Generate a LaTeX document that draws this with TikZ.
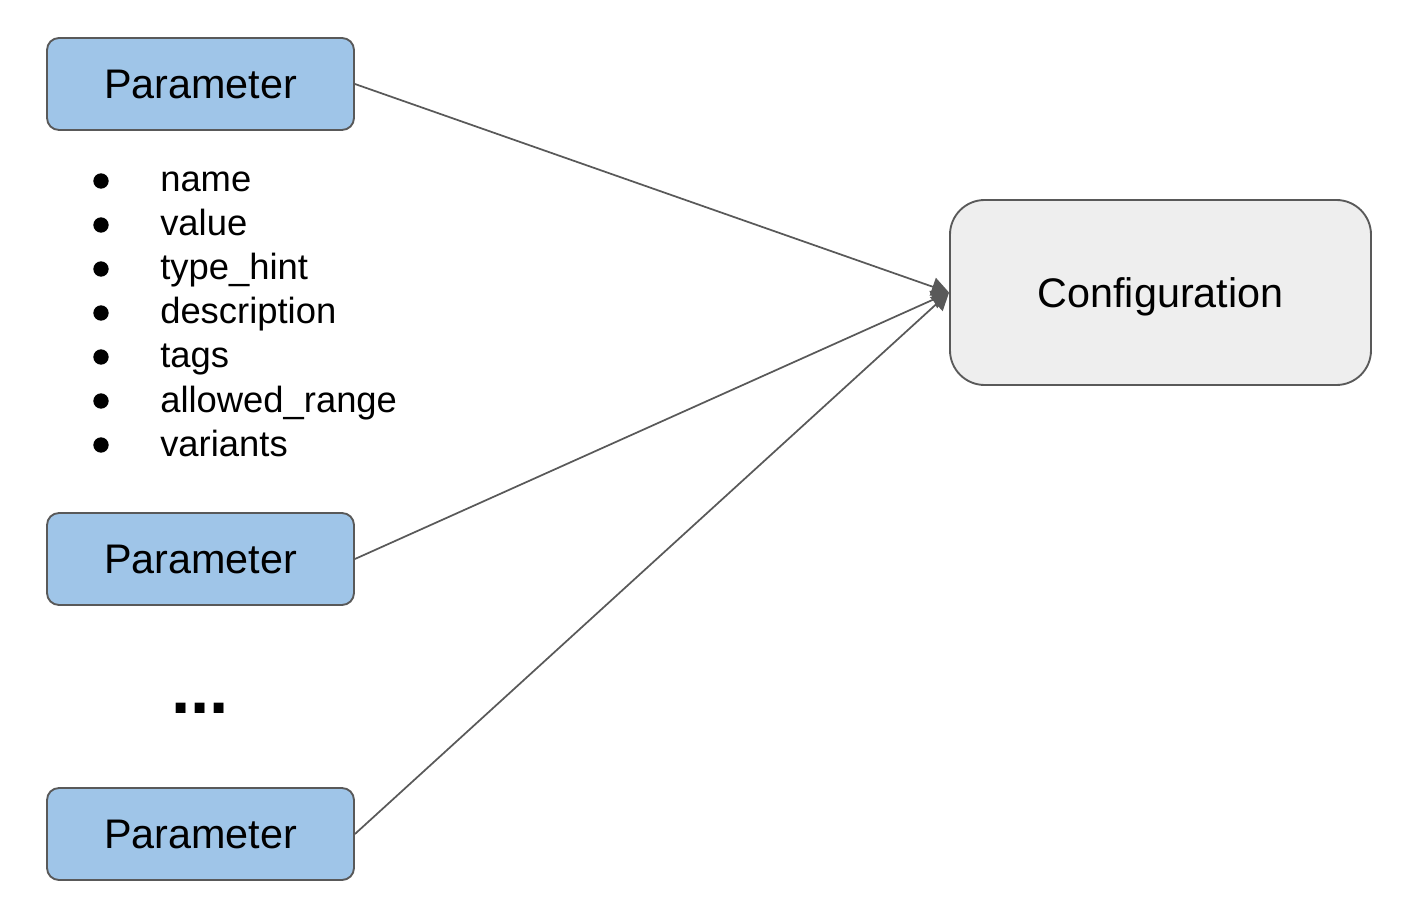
\documentclass[tikz,border=0pt]{standalone}
\usepackage{fontspec}
\setmainfont{Liberation Sans}
\usetikzlibrary{arrows.meta}
\definecolor{parblue}{HTML}{9FC5E8}
\definecolor{confgray}{HTML}{EEEEEE}
\definecolor{edgegray}{HTML}{595959}
\begin{document}
\begin{tikzpicture}[x=0.75pt,y=-0.75pt,
  parbox/.style={draw=edgegray,line width=1.4pt,fill=parblue,rounded corners=9pt,
    minimum width=230.25pt,minimum height=69pt,inner sep=0pt,
    font=\fontsize{31}{37}\selectfont},
  confbox/.style={draw=edgegray,line width=1.4pt,fill=confgray,rounded corners=26pt,
    minimum width=315.75pt,minimum height=138.75pt,inner sep=0pt,text depth=0pt,
    font=\fontsize{31}{37}\selectfont},
  item/.style={anchor=base west,inner sep=0pt,font=\fontsize{27.3}{32}\selectfont},
  dot/.style={circle,fill=black,inner sep=0pt,minimum size=11.5pt},
  link/.style={draw=edgegray,line width=1.3pt,-{Triangle[length=13pt,width=14pt]}}]
\useasboundingbox (0,0) rectangle (1404,902);

% parameter boxes
\node[parbox] (p1) at (200.5,84) {Parameter};
\node[parbox] (p2) at (200.5,559) {Parameter};
\node[parbox] (p3) at (200.5,834) {Parameter};

% configuration box
\node[confbox] (conf) at (1160.5,292.5) {Configuration};

% attribute list
\foreach \t [count=\i from 0] in {name,value,type\_hint,description,tags,allowed\_range,variants}{
  \node[dot] (b\i) at (101,{181+44*\i}) {};
  \node[item] (t\i) at (160,{192+44*\i}) {\t};
}

% ellipsis between the boxes
\node[anchor=base,inner sep=0pt,font=\fontsize{52}{60}\bfseries\selectfont] (more) at (200,713) {...};

% connectors
\draw[link] (p1.east) -- (conf.west);
\draw[link] (p2.east) -- (conf.west);
\draw[link] (p3.east) -- (conf.west);
\end{tikzpicture}
\end{document}
